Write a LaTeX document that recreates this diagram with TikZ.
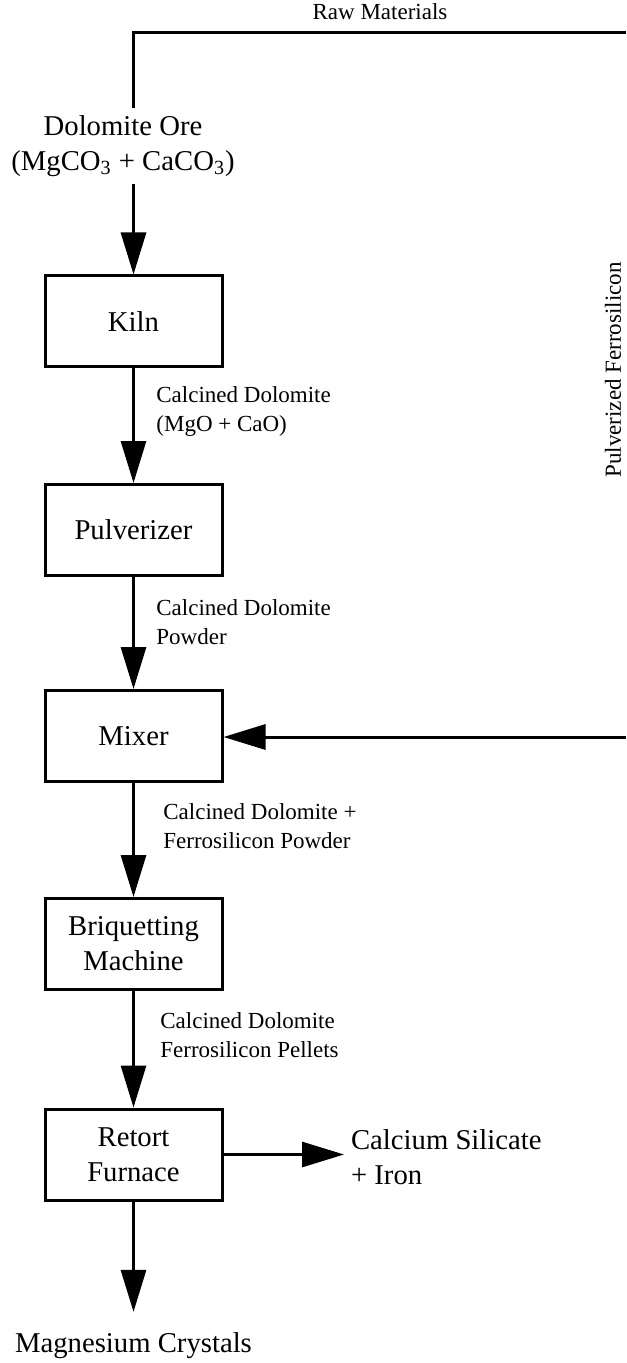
\documentclass[tikz,border=0pt]{standalone}
\usepackage{fontspec}
\setmainfont{Liberation Serif}
\usetikzlibrary{arrows.meta}
\begin{document}
\begin{tikzpicture}[x=0.5pt,y=-0.5pt,
  bigtext/.style={font=\fontsize{14.35}{17.5}\selectfont},
  smalltext/.style={font=\fontsize{11.5}{14.5}\selectfont},
  unit/.style={draw,line width=1.5pt,minimum width=88.5pt,minimum height=45.5pt,
    inner sep=0pt,align=center,bigtext},
  flow/.style={line width=1.5pt,-{Triangle[length=21pt,width=12.5pt]}},
  pipe/.style={line width=1.5pt},
  lbl/.style={smalltext,align=left,anchor=west,inner sep=0pt}]
\useasboundingbox (0,0) rectangle (626,1363);

% process units
\node[unit] (kiln)  at (133.5,321.5) {Kiln};
\node[unit] (pulv)  at (133.5,530)   {Pulverizer};
\node[unit] (mixer) at (133.5,736)   {Mixer};
\node[unit] (briq)  at (133.5,944)   {Briquetting\\Machine};
\node[unit] (retort) at (133.5,1154.5) {Retort\\Furnace};

% feed and product texts
\node[bigtext,align=center] (ore) at (123,146)
  {Dolomite Ore\\(MgCO\textsubscript{3} + CaCO\textsubscript{3})};
\node[bigtext,align=left,anchor=west] (slag) at (344,1157) {Calcium Silicate\\+ Iron};
\node[bigtext] (mag) at (133.5,1346) {Magnesium Crystals};
\node[smalltext] (raw) at (380,12) {Raw Materials};
\node[smalltext,rotate=90,inner sep=1pt] (fesi) at (613,370) {Pulverized Ferrosilicon};

% raw material supply line
\coordinate (corner) at (133.5,33);
\coordinate (topend) at (626,33);
\coordinate (fesiend) at (626,737);
\draw[pipe] (ore.north -| kiln.north) -- (corner) -- (topend);

% main flow
\draw[flow] (ore.south -| kiln.north) -- (kiln.north);
\draw[flow] (kiln) -- (pulv);
\draw[flow] (pulv) -- (mixer);
\draw[flow] (mixer) -- (briq);
\draw[flow] (briq) -- (retort);
\draw[flow] (fesiend) -- (fesiend -| mixer.east);
\draw[flow] (retort.east) -- (retort.east -| slag.west);
\draw[flow,shorten >=7pt] (retort) -- (mag);

% stream labels
\node[lbl] (s1) at (156,412) {Calcined Dolomite\\(MgO + CaO)};
\node[lbl] (s2) at (156,622) {Calcined Dolomite\\Powder};
\node[lbl] (s3) at (163,826) {Calcined Dolomite +\\Ferrosilicon Powder};
\node[lbl] (s4) at (160,1035) {Calcined Dolomite\\Ferrosilicon Pellets};
\end{tikzpicture}
\end{document}
